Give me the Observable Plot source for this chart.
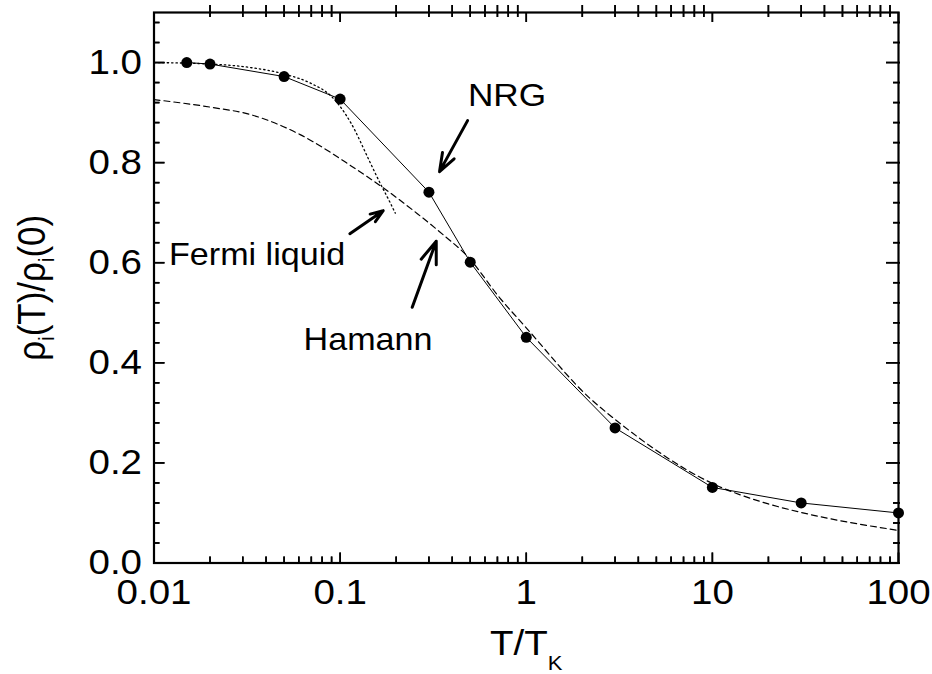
<!DOCTYPE html>
<html>
<head>
<meta charset="utf-8">
<script src="https://cdn.jsdelivr.net/npm/d3@7"></script>
<script src="https://cdn.jsdelivr.net/npm/@observablehq/plot@0.6"></script>
<style>
  html, body { margin: 0; padding: 0; background: #fff; }
  #chart { position: relative; width: 932px; height: 674px; }
  #chart svg { display: block; position: absolute; left: 0; top: 0; }
</style>
</head>
<body>
<div id="chart"></div>
<script>
// NRG results: normalised impurity resistivity vs reduced temperature
const nrgT   = [0.015, 0.02, 0.05, 0.1, 0.3, 0.5, 1, 3, 10, 30, 100];
const nrgRho = [1.0, 0.997, 0.972, 0.927, 0.741, 0.601, 0.451, 0.270, 0.151, 0.120, 0.100];

// Hamann curve (dashed)
const hamT   = [0.01, 0.02, 0.033, 0.061, 0.114, 0.17, 0.26, 0.36, 0.48, 0.72, 1.0, 2.2, 3, 10, 20, 30, 100];
const hamRho = [0.926, 0.911, 0.896, 0.856, 0.794, 0.750, 0.698, 0.655, 0.614, 0.530, 0.470, 0.329, 0.287, 0.159, 0.118, 0.101, 0.065];

// Fermi-liquid low-temperature form (dotted)
const flT   = [0.01, 0.02, 0.03, 0.05, 0.07, 0.09, 0.114, 0.143, 0.162, 0.184, 0.198];
const flRho = [1.0, 0.997, 0.992, 0.977, 0.958, 0.932, 0.880, 0.805, 0.763, 0.723, 0.699];

// Axis ticks and labels
const xMajor = [0.01, 0.1, 1, 10, 100];
const xLabels = ["0.01", "0.1", "1", "10", "100"];
const xMinor = xMajor.slice(0, -1).flatMap(d => [2, 3, 4, 5, 6, 7, 8, 9].map(k => k * d));
const yMajor = [0, 0.2, 0.4, 0.6, 0.8, 1.0];
const yLabels = ["0.0", "0.2", "0.4", "0.6", "0.8", "1.0"];
const yMinor = d3.range(1, 28).map(k => k * 0.04).filter(v => Math.abs(v / 0.2 - Math.round(v / 0.2)) > 1e-6);

// Annotations
const notes = [
  {text: "NRG",          t: 0.788,  rho: 0.933, size: 32},
  {text: "Fermi liquid", t: 0.0358, rho: 0.616, size: 31},
  {text: "Hamann",       t: 0.1412, rho: 0.446, size: 31}
];
const pointers = [
  {t1: 0.484, r1: 0.884, t2: 0.342, r2: 0.782},
  {t1: 0.1128, r1: 0.658, t2: 0.1704, r2: 0.704},
  {t1: 0.244, r1: 0.511, t2: 0.3284, r2: 0.643}
];

const nrg = nrgT.map((t, i) => ({t, rho: nrgRho[i]}));
const hamann = hamT.map((t, i) => ({t, rho: hamRho[i]}));
const fermi = flT.map((t, i) => ({t, rho: flRho[i]}));

// Layout shared by both layers
const W = 932, H = 674;
const mL = 153.5, mR = 34, mT = 12, mB = 111.5;
const PW = W - mL - mR, PH = H - mT - mB;
const X0 = 0.01, X1 = 100, Y0 = 0, Y1 = 1.1;
const FONT = "'Liberation Sans', Arial, Helvetica, sans-serif";
const frameOpts = {
  width: W, height: H, marginLeft: mL, marginRight: mR, marginTop: mT, marginBottom: mB,
  x: {type: "log", domain: [X0, X1], axis: null},
  y: {domain: [Y0, Y1], axis: null}
};

// Tick lengths in pixels, turned into data offsets along each axis
const ky = (Y1 - Y0) / PH;                     // value units per pixel
const kx = Math.log10(X1 / X0) / PW;           // decades per pixel
const up = px => Y0 + px * ky;
const down = px => Y1 - px * ky;
const right = px => X0 * Math.pow(10, px * kx);
const left = px => X1 * Math.pow(10, -px * kx);
const RULE = {stroke: "#000", strokeWidth: 1.6};

// Data layer: curves, points, annotations, labels and tick rules
const chart = Plot.plot({
  ...frameOpts,
  style: {fontFamily: FONT, background: "#fff", color: "#000", overflow: "visible"},
  marks: [
    Plot.line(fermi, {x: "t", y: "rho", stroke: "#000", strokeWidth: 1.3, strokeDasharray: "1.4,3", curve: "monotone-x"}),
    Plot.line(hamann, {x: "t", y: "rho", stroke: "#000", strokeWidth: 1.2, strokeDasharray: "6,4", curve: "monotone-x"}),
    Plot.line(nrg, {x: "t", y: "rho", stroke: "#000", strokeWidth: 1}),
    Plot.dot(nrg, {x: "t", y: "rho", r: 5.5, fill: "#000", stroke: "none"}),

    // tick rules: bottom, top, left, right
    Plot.ruleX(xMinor, {x: d => d, y1: up(0), y2: up(6), ...RULE}),
    Plot.ruleX(xMajor, {x: d => d, y1: up(0), y2: up(10), ...RULE}),
    Plot.ruleX(xMinor, {x: d => d, y1: down(-7), y2: down(5), ...RULE}),
    Plot.ruleX(xMajor, {x: d => d, y1: down(0), y2: down(10), ...RULE}),
    Plot.ruleY(yMinor, {y: d => d, x1: right(0), x2: right(6), ...RULE}),
    Plot.ruleY(yMajor, {y: d => d, x1: right(0), x2: right(11), ...RULE}),
    Plot.ruleY(yMinor, {y: d => d, x1: left(-2), x2: left(5), ...RULE}),
    Plot.ruleY(yMajor, {y: d => d, x1: left(-2), x2: left(12), ...RULE}),

    Plot.arrow(pointers, {x1: "t1", y1: "r1", x2: "t2", y2: "r2", stroke: "#000", strokeWidth: 3, headLength: 15, headAngle: 40}),
    Plot.text(notes, {x: "t", y: "rho", text: "text", fontSize: d => d.size, textAnchor: "middle", lineAnchor: "middle", fill: "#000"}),

    Plot.axisX(xMajor, {anchor: "bottom", tickSize: 0, tickPadding: 16, label: null, fontSize: 35,
      tickFormat: d => xLabels[xMajor.indexOf(d)]}),
    Plot.axisY(yMajor, {anchor: "left", tickSize: 0, tickPadding: 12, label: null, fontSize: 35,
      tickFormat: d => yLabels[yMajor.indexOf(d)]}),

    // axis titles (subscripts added below)
    Plot.text(["T/TK"], {frameAnchor: "bottom", dy: 67.5, text: d => d, fontSize: 35, lineAnchor: "top", textAnchor: "middle", fill: "#000"}),
    Plot.text(["ρi(T)/ρi(0)"], {frameAnchor: "left", dx: -121.5, rotate: -90, text: d => d, fontSize: 35, lineAnchor: "middle", textAnchor: "middle", fill: "#000"})
  ]
});

// Frame layer: box and tick marks on all four sides
const TICK = {stroke: "#000", strokeWidth: 1.6};
const frame = Plot.plot({
  ...frameOpts,
  style: {background: "transparent", overflow: "visible"},
  marks: [
    Plot.frame({stroke: "#000", strokeWidth: 2.2}),
    Plot.tickX(xMinor, {x: d => d, insetTop: PH - 6, ...TICK}),
    Plot.tickX(xMajor, {x: d => d, insetTop: PH - 10, ...TICK}),
    Plot.tickX(xMinor, {x: d => d, insetTop: -7, insetBottom: PH - 5, ...TICK}),
    Plot.tickX(xMajor, {x: d => d, insetBottom: PH - 10, ...TICK}),
    Plot.tickY(yMinor, {y: d => d, insetRight: PW - 6, ...TICK}),
    Plot.tickY(yMajor, {y: d => d, insetRight: PW - 11, ...TICK}),
    Plot.tickY(yMinor, {y: d => d, insetLeft: PW - 5, insetRight: -2, ...TICK}),
    Plot.tickY(yMajor, {y: d => d, insetLeft: PW - 12, insetRight: -2, ...TICK})
  ]
});

const NS = "http://www.w3.org/2000/svg";

// Rebuild a plain label as tspans; each part is [string, isSubscript]
function richLabel(svg, plain, parts, subSize, shift) {
  for (const t of svg.querySelectorAll("text")) {
    if (t.textContent !== plain) continue;
    t.textContent = "";
    let lowered = false;
    for (const [str, sub] of parts) {
      const ts = document.createElementNS(NS, "tspan");
      ts.textContent = str;
      if (sub && !lowered) { ts.setAttribute("dy", shift); lowered = true; }
      else if (!sub && lowered) { ts.setAttribute("dy", -shift); lowered = false; }
      if (sub) ts.setAttribute("font-size", subSize);
      t.appendChild(ts);
    }
  }
}
richLabel(chart, "T/TK", [["T/T", false], ["K", true]], 20, 15);
richLabel(chart, "ρi(T)/ρi(0)", [["ρ", false], ["i", true], ["(T)/ρ", false], ["i", true], ["(0)", false]], 20, 8);

// Slightly widened lettering
const STRETCH = 1.1;
for (const t of chart.querySelectorAll("text")) {
  const tr = t.getAttribute("transform");
  if (tr) {
    t.setAttribute("transform", tr + (/rotate/.test(tr) ? ` scale(1,${STRETCH})` : ` scale(${STRETCH},1)`));
  } else {
    const x = +t.getAttribute("x") || 0, y = +t.getAttribute("y") || 0;
    t.setAttribute("transform", `translate(${x},${y}) scale(${STRETCH},1) translate(${-x},${-y})`);
  }
}

const holder = document.getElementById("chart");
holder.appendChild(chart);
holder.appendChild(frame);
</script>
</body>
</html>
